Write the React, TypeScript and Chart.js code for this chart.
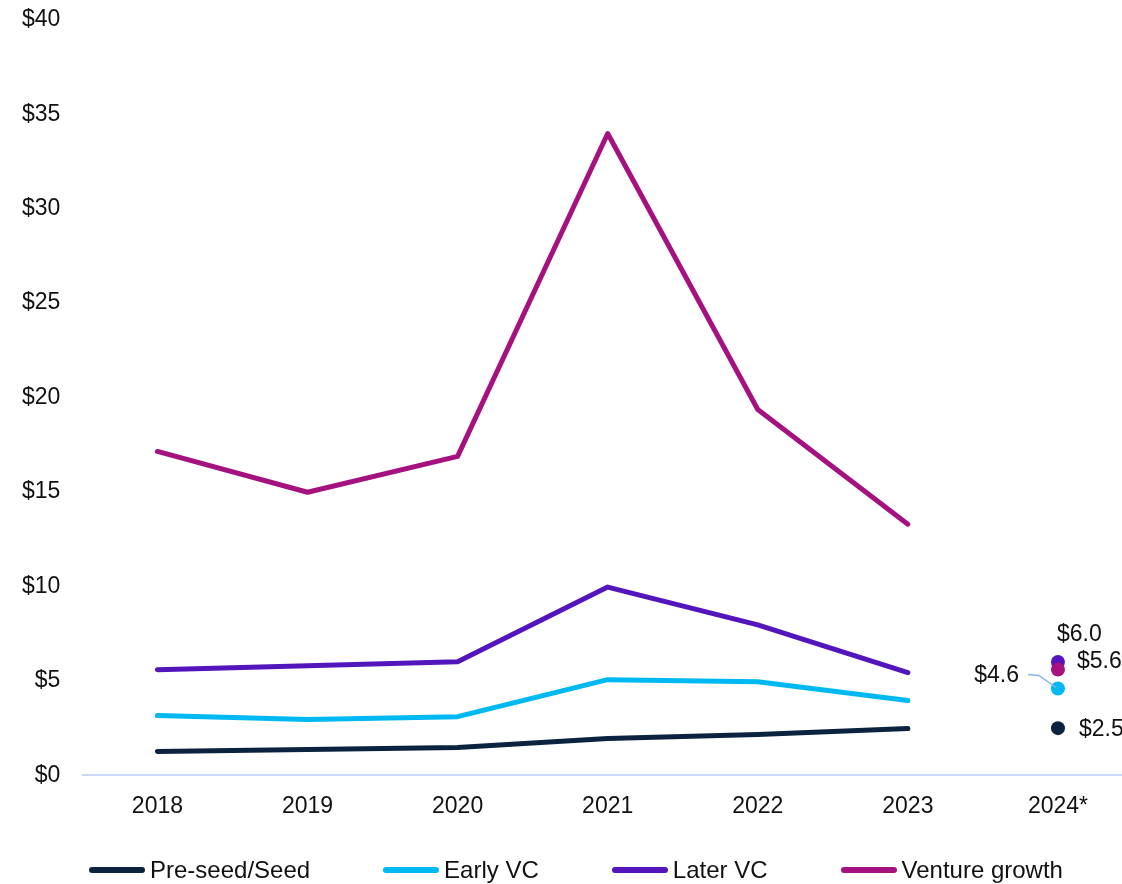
import React, { useEffect, useRef } from "react";
import { Chart, registerables } from "chart.js";

Chart.register(...registerables);

// ---- Data ----
const years = ["2018", "2019", "2020", "2021", "2022", "2023", "2024*"];
const seriesNames = ["Pre-seed/Seed", "Early VC", "Later VC", "Venture growth"];
const preSeed = [1.27, 1.37, 1.48, 1.95, 2.16, 2.48, null];
const earlyVC = [3.17, 2.96, 3.11, 5.07, 4.96, 3.96, null];
const laterVC = [5.59, 5.8, 6.02, 9.97, 7.97, 5.44, null];
const ventureGrowth = [17.15, 14.99, 16.89, 33.98, 19.37, 13.3, null];
const ytd2024 = [2.5, 4.6, 6.0, 5.6]; // same order as seriesNames
const ytdLabels = ["$2.5", "$4.6", "$6.0", "$5.6"];
const yTickValues = [0, 5, 10, 15, 20, 25, 30, 35, 40];

// ---- Styles ----
const colors = ["#0c2340", "#00b9f2", "#5316bd", "#a5127f"];
const FONT = "Arial, 'Liberation Sans', Helvetica, sans-serif";
const labelPlacement = [
  { dx: 21, dy: 1, align: "left" },
  { dx: -39, dy: -13, align: "right" },
  { dx: -1, dy: -27, align: "left" },
  { dx: 19, dy: -8, align: "left" },
];
const pointOrder = [1, 2, 4, 3];

const ytdLabelPlugin = {
  id: "ytdLabels",
  afterDatasetsDraw(chart: any) {
    const ctx = chart.ctx;
    ctx.save();
    ctx.font = `23px ${FONT}`;
    ctx.fillStyle = "#111";
    ctx.textBaseline = "middle";
    for (let s = 0; s < 4; s++) {
      const meta = chart.getDatasetMeta(4 + s);
      const el = meta.data[6];
      if (!el) continue;
      const p = labelPlacement[s];
      ctx.textAlign = p.align;
      ctx.fillText(ytdLabels[s], el.x + p.dx, el.y + p.dy);
      if (s === 1) {
        ctx.strokeStyle = "#86b0ee";
        ctx.lineWidth = 1.5;
        ctx.beginPath();
        ctx.moveTo(el.x - 30, el.y - 14);
        ctx.lineTo(el.x - 19, el.y - 13);
        ctx.lineTo(el.x - 2, el.y - 1);
        ctx.stroke();
      }
    }
    ctx.restore();
  },
};

export default function App() {
  const ref = useRef<HTMLCanvasElement | null>(null);

  useEffect(() => {
    if (!ref.current) return;
    const lineSeries = [preSeed, earlyVC, laterVC, ventureGrowth];
    const lineDatasets = lineSeries.map((d, i) => ({
      type: "line",
      label: seriesNames[i],
      data: d,
      borderColor: colors[i],
      backgroundColor: colors[i],
      borderWidth: 5,
      borderCapStyle: "round",
      borderJoinStyle: "round",
      pointRadius: 0,
      tension: 0,
      spanGaps: false,
      order: 10 + i,
    }));
    const pointDatasets = ytd2024.map((v, i) => ({
      type: "line",
      label: seriesNames[i] + " 2024",
      data: years.map((_, k) => (k === years.length - 1 ? v : null)),
      showLine: false,
      pointRadius: 7,
      pointHoverRadius: 7,
      pointBorderWidth: 0,
      pointBackgroundColor: colors[i],
      borderColor: colors[i],
      backgroundColor: colors[i],
      order: pointOrder[i],
    }));

    const chart = new Chart(ref.current, {
      type: "line",
      data: { labels: years, datasets: [...lineDatasets, ...pointDatasets] as any },
      options: {
        responsive: false,
        animation: false,
        layout: { padding: { left: 0, right: 0, top: 0, bottom: 47 } },
        plugins: {
          legend: { display: false },
          tooltip: { enabled: false },
        },
        scales: {
          x: {
            offset: true,
            grid: { display: false, drawTicks: false },
            border: { display: false },
            ticks: {
              color: "#111",
              font: { family: FONT, size: 23 },
              padding: 17,
            },
          },
          y: {
            min: 0,
            max: 40,
            afterBuildTicks: (axis: any) => {
              axis.ticks = yTickValues.map((v) => ({ value: v }));
            },
            grid: {
              drawTicks: false,
              color: (c: any) => (c.tick && c.tick.value === 0 ? "#c9daf8" : "rgba(0,0,0,0)"),
              lineWidth: 2,
            },
            border: { display: false },
            ticks: {
              color: "#111",
              font: { family: FONT, size: 23 },
              padding: 22,
              callback: (v: any) => "$" + v,
            },
          },
        },
      },
      plugins: [ytdLabelPlugin],
    } as any);
    return () => chart.destroy();
  }, []);

  return (
    <div
      style={{
        position: "absolute",
        left: 0,
        top: 0,
        width: 1122,
        height: 884,
        overflow: "hidden",
        background: "#fff",
        fontFamily: FONT,
      }}
    >
      <canvas
        ref={ref}
        width={1140}
        height={900}
        style={{ display: "block", position: "absolute", left: 0, top: -16 }}
      />
      <div
        style={{
          position: "absolute",
          left: 89,
          top: 857,
          display: "flex",
          alignItems: "center",
          whiteSpace: "nowrap",
          fontSize: 24,
          lineHeight: "26px",
          color: "#111",
        }}
      >
        {seriesNames.map((n, i) => (
          <div
            key={n}
            style={{ display: "flex", alignItems: "center", marginRight: i < seriesNames.length - 1 ? 73 : 0 }}
          >
            <span
              style={{
                display: "inline-block",
                width: 56,
                height: 6,
                borderRadius: 3,
                background: colors[i],
                marginRight: 5,
              }}
            />
            <span>{n}</span>
          </div>
        ))}
      </div>
    </div>
  );
}
